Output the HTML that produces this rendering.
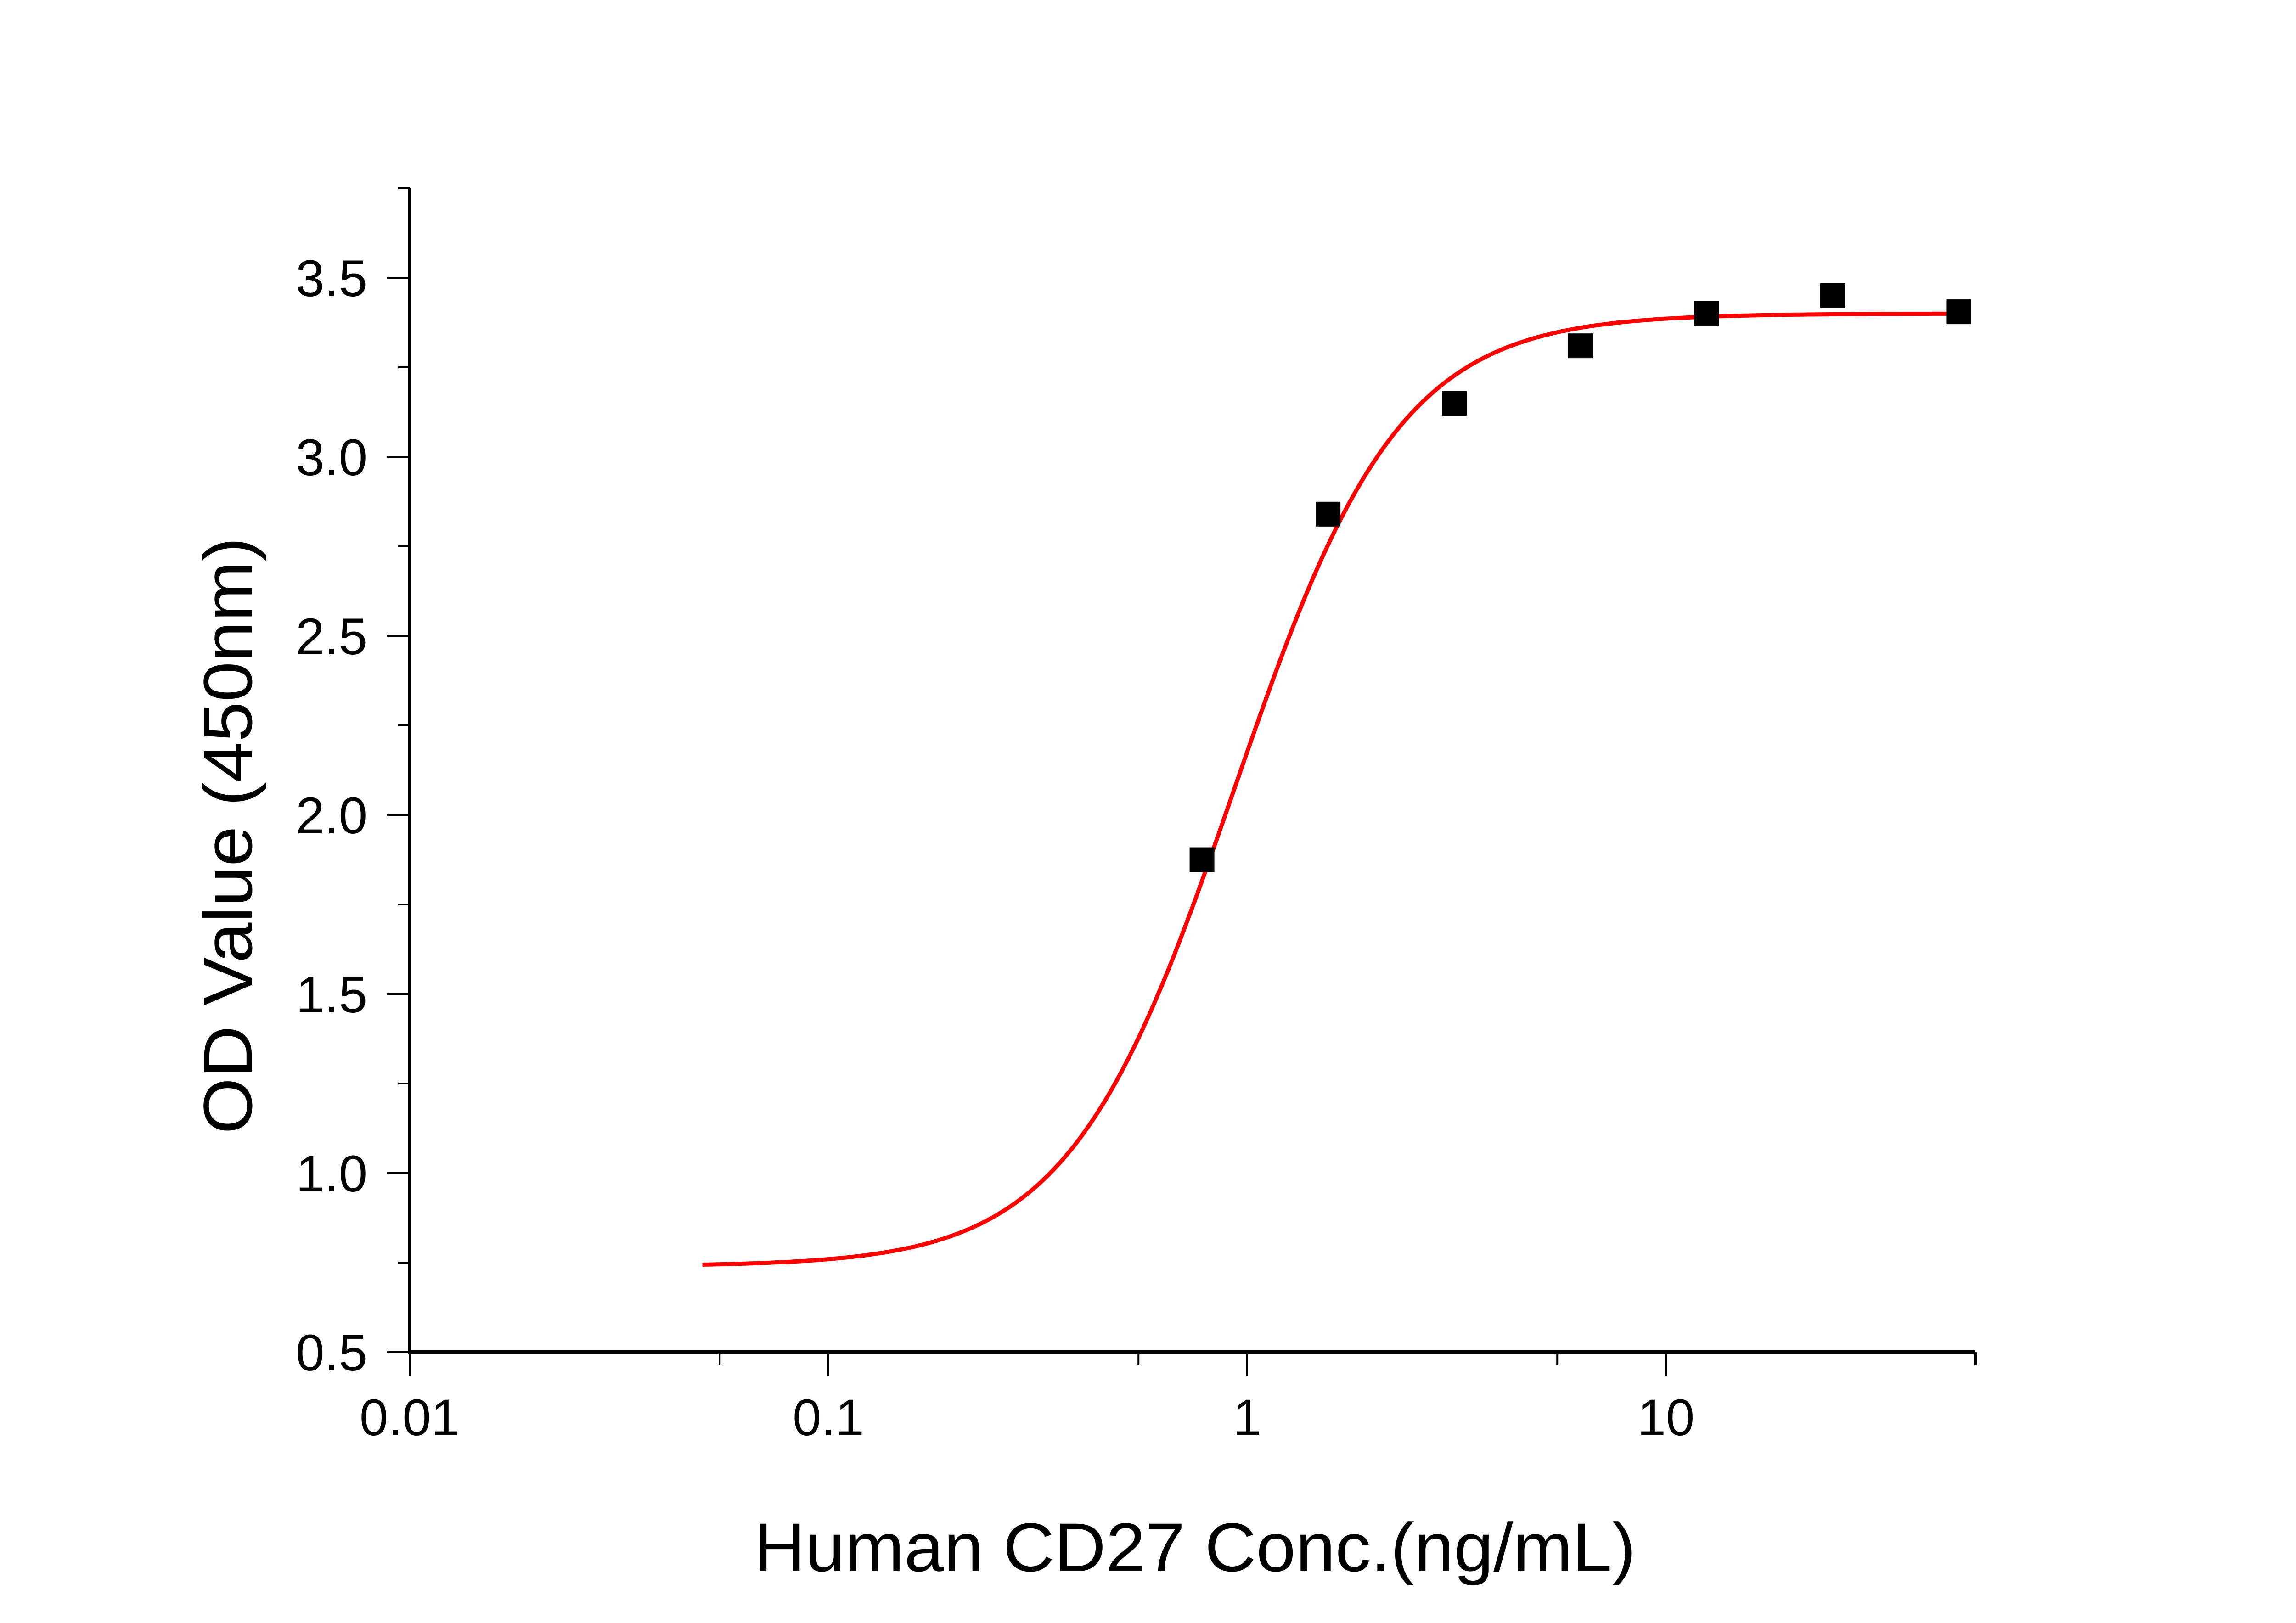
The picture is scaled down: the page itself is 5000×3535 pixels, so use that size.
<!DOCTYPE html>
<html><head><meta charset="utf-8"><style>
html,body{margin:0;padding:0;background:#fff;}
svg{display:block;}
text{font-family:"Liberation Sans",sans-serif;fill:#000;}
</style></head><body>
<svg id="chart" width="5000" height="3535" viewBox="0 0 5000 3535" xmlns="http://www.w3.org/2000/svg">
<g id="axes"></g>
<g id="curve"></g>
<g id="points"></g>
<text x="2602" y="3422" font-size="150" text-anchor="middle" textLength="1920" lengthAdjust="spacingAndGlyphs">Human CD27 Conc.(ng/mL)</text>
<text transform="translate(548,1820) rotate(-90)" font-size="150" text-anchor="middle" textLength="1300" lengthAdjust="spacingAndGlyphs">OD Value (450nm)</text>
</svg>
<script>
const concentrations = [0.78, 1.56, 3.125, 6.25, 12.5, 25, 50];
const odValues = [1.875, 2.84, 3.15, 3.31, 3.40, 3.45, 3.405];
const yTicks = [0.5, 1.0, 1.5, 2.0, 2.5, 3.0, 3.5];
const yTickLabels = ["0.5", "1.0", "1.5", "2.0", "2.5", "3.0", "3.5"];
const xTicks = [0.01, 0.1, 1, 10];
const xTickLabels = ["0.01", "0.1", "1", "10"];
const fitParams = [0.74, 3.40, 0.93, 2.2]; // bottom, top, EC50, hill
const fitRange = [0.05, 50];

const NS = "http://www.w3.org/2000/svg";
const X0 = 892, DEC = 912, Y0 = 2945, YU = 780;
const xMin = 0.01, xMax = 54.7, yMin = 0.5, yMax = 3.75;
function xs(v){ return X0 + DEC * (Math.log10(v) - Math.log10(xMin)); }
function ys(v){ return Y0 - (v - yMin) * YU; }
function mk(tag, attrs, parent){ const e = document.createElementNS(NS, tag); for (const k in attrs) e.setAttribute(k, attrs[k]); parent.appendChild(e); return e; }

const axes = document.getElementById('axes');
let yl = mk('line', {x1: X0, y1: ys(yMax), x2: X0, y2: Y0 + 4, stroke: '#000', 'stroke-width': 8}, axes);


let xl = mk('line', {x1: X0 - 4, y1: Y0, x2: xs(xMax), y2: Y0, stroke: '#000', 'stroke-width': 8}, axes);



yTicks.forEach((v, i) => {
  const t = mk('line', {x1: X0 - 49, y1: ys(v), x2: X0, y2: ys(v), stroke: '#000', 'stroke-width': 4}, axes);
  
  
  const lb = mk('text', {x: 800, y: ys(v) + 40, 'font-size': 112, 'text-anchor': 'end'}, axes);
  lb.textContent = yTickLabels[i];
  
  
  if (i < yTicks.length - 1) {
    const m = mk('line', {x1: X0 - 25, y1: ys(v + 0.25), x2: X0, y2: ys(v + 0.25), stroke: '#000', 'stroke-width': 4}, axes);
    
    
  }
});
let tm = mk('line', {x1: X0 - 25, y1: ys(yMax), x2: X0, y2: ys(yMax), stroke: '#000', 'stroke-width': 4}, axes);



xTicks.forEach((v, i) => {
  const t = mk('line', {x1: xs(v), y1: Y0, x2: xs(v), y2: Y0 + 53, stroke: '#000', 'stroke-width': 4}, axes);
  
  
  const lb = mk('text', {x: xs(v), y: 3126, 'font-size': 112, 'text-anchor': 'middle'}, axes);
  lb.textContent = xTickLabels[i];
  
  
  const mv = v * 5.5;
  const m = mk('line', {x1: xs(mv), y1: Y0, x2: xs(mv), y2: Y0 + 29, stroke: '#000', 'stroke-width': 4}, axes);
  
  
});
let te = mk('line', {x1: xs(xMax), y1: Y0, x2: xs(xMax), y2: Y0 + 29, stroke: '#000', 'stroke-width': 4}, axes);



const cg = document.getElementById('curve');
const [B, T, C, H] = fitParams;
let d = '';
const N = 200;
for (let k = 0; k <= N; k++) {
  const lx = Math.log10(fitRange[0]) + (Math.log10(fitRange[1]) - Math.log10(fitRange[0])) * k / N;
  const x = Math.pow(10, lx);
  const y = B + (T - B) / (1 + Math.pow(C / x, H));
  d += (k ? 'L' : 'M') + xs(x).toFixed(1) + ' ' + ys(y).toFixed(1);
}
const path = mk('path', {d: d, fill: 'none', stroke: '#ff0000', 'stroke-width': 9}, cg);



const pg = document.getElementById('points');
concentrations.forEach((c, i) => {
  const s = 54;
  const r = mk('rect', {x: xs(c) - s / 2, y: ys(odValues[i]) - s / 2, width: s, height: s, fill: '#000'}, pg);
  
  
});
</script>
</body></html>
